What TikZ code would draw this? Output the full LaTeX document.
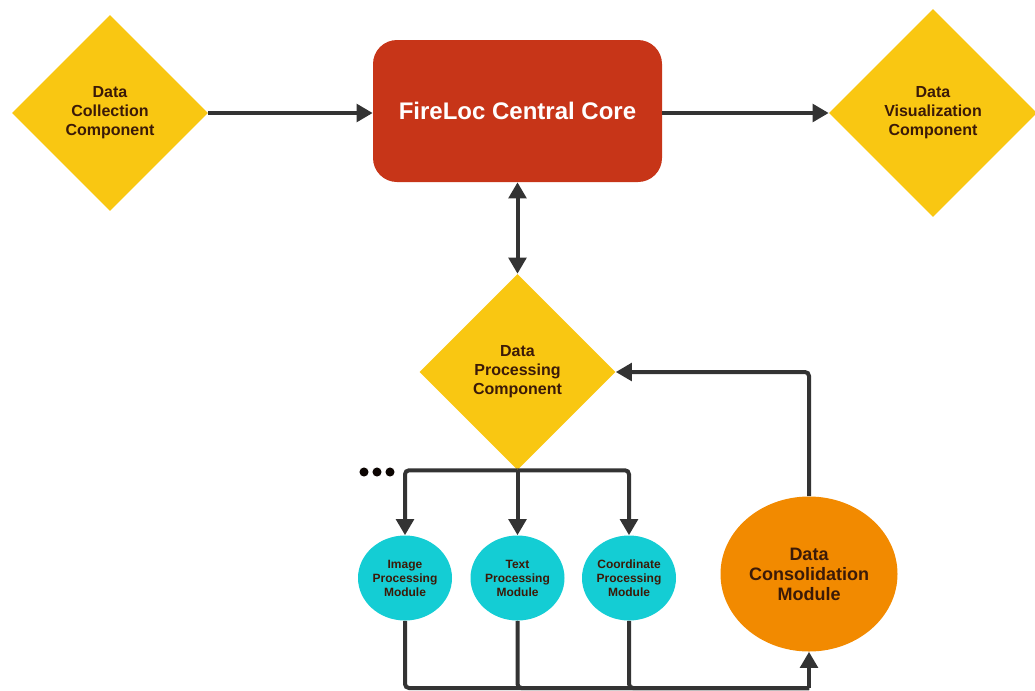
\documentclass[tikz,border=0pt]{standalone}
\usepackage{fontspec}
\setmainfont{Liberation Sans}
\usetikzlibrary{arrows.meta,shapes.geometric}
\definecolor{compyellow}{HTML}{F9C712}
\definecolor{corered}{HTML}{C73518}
\definecolor{modcyan}{HTML}{14CDD4}
\definecolor{consorange}{HTML}{F28A00}
\definecolor{linegray}{HTML}{333333}
\definecolor{textbrown}{HTML}{3B1A08}
\begin{document}
\begin{tikzpicture}[x=0.75pt,y=-0.75pt,
  comp/.style={diamond,fill=compyellow,inner sep=0pt,minimum size=147pt,align=center,
    text=textbrown,font=\bfseries\fontsize{12}{14.25}\selectfont},
  module/.style={ellipse,fill=modcyan,inner sep=0pt,minimum width=70.5pt,minimum height=63.75pt,
    align=center,text=textbrown,font=\bfseries\fontsize{9}{10.5}\selectfont},
  conn/.style={draw=linegray,line width=3pt},
  tip/.style={-{Triangle[length=12pt,width=13pt]}}]
\useasboundingbox (0,0) rectangle (1035,690);
\node[comp] (coll) at (110,113) {Data\\Collection\\Component};
\node[rectangle,rounded corners=18pt,fill=corered,minimum width=216.75pt,minimum height=106.5pt,
  text=white,font=\bfseries\fontsize{18}{21}\selectfont] (core) at (517.5,111) {FireLoc Central Core};
\node[comp,minimum size=156pt] (vis) at (933,113) {Data\\Visualization\\Component};
\node[comp] (proc) at (517.5,372) {Data\\Processing\\Component};
\node[module] (img) at (405,578) {Image\\Processing\\Module};
\node[module] (txt) at (517.5,578) {Text\\Processing\\Module};
\node[module] (crd) at (629,578) {Coordinate\\Processing\\Module};
\node[ellipse,fill=consorange,inner sep=0pt,minimum width=132.75pt,minimum height=116.25pt,
  align=center,text=textbrown,font=\bfseries\fontsize{13.5}{15}\selectfont] (cons) at (809,574)
  {Data\\Consolidation\\Module};
\coordinate (busB) at (809,688);
\foreach \x in {364,377,390}{\fill[textbrown!20!black] (\x,472) circle (3.4pt);}
\draw[conn,tip] (coll.east) -- (core.west |- coll.east);
\draw[conn,tip] (core.east |- vis.west) -- (vis.west);
\draw[conn,{Triangle[length=12pt,width=13pt]}-{Triangle[length=12pt,width=13pt]}] (core.south) -- (proc.north);
\draw[conn,tip] (proc.south) -- (txt.north);
\draw[conn,tip,rounded corners=3pt] (proc.south) -| (img.north);
\draw[conn,tip,rounded corners=3pt] (proc.south) -| (crd.north);
\draw[conn,rounded corners=3pt] (img.south) |- (busB);
\draw[conn,rounded corners=3pt] (txt.south) |- (busB);
\draw[conn,rounded corners=3pt] (crd.south) |- (busB);
\draw[conn,tip] (busB) -- (cons.south);
\draw[conn,tip,rounded corners=3pt] (cons.north) |- (proc.east);
\end{tikzpicture}
\end{document}
